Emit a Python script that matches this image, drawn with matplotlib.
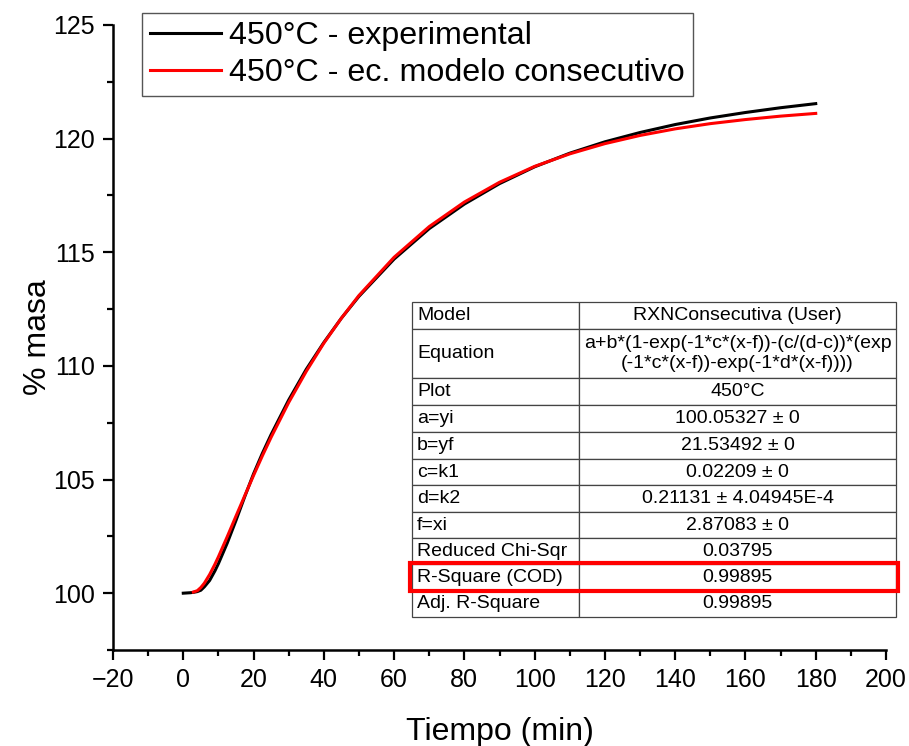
import matplotlib.pyplot as plt
from matplotlib.patches import Rectangle
from matplotlib.ticker import MultipleLocator

plt.rcParams['font.family'] = ['Liberation Sans', 'DejaVu Sans']

# curve values
x_exp = [0, 1, 2, 3, 4, 5, 6, 7.5, 9, 10, 11, 12.5, 15, 17.5, 20, 22.5, 25, 30,
         35, 40, 45, 50, 60, 70, 80, 90, 100, 110, 120, 130, 140, 150, 160,
         170, 180]
y_exp = [100.0, 100.01, 100.02, 100.04, 100.07, 100.13, 100.28, 100.56, 100.98,
         101.30, 101.66, 102.20, 103.20, 104.25, 105.25, 106.15, 106.98, 108.50,
         109.85, 111.03, 112.10, 113.06, 114.70, 116.04, 117.12, 118.02, 118.76,
         119.36, 119.86, 120.27, 120.62, 120.91, 121.15, 121.36, 121.54]

x_mod = [2.87, 4, 5, 6, 7.5, 9, 10, 12.5, 15, 17.5, 20, 22.5, 25, 30, 35, 40,
         45, 50, 60, 70, 80, 90, 100, 110, 120, 130, 140, 150, 160, 170, 180]
y_mod = [100.05, 100.11, 100.25, 100.44, 100.82, 101.27, 101.60, 102.48,
         103.39, 104.29, 105.18, 106.04, 106.86, 108.39, 109.76, 111.00, 112.10,
         113.10, 114.78, 116.13, 117.21, 118.08, 118.78, 119.33, 119.78, 120.14,
         120.43, 120.66, 120.84, 120.99, 121.11]

table_rows = [
    ['Model', 'RXNConsecutiva (User)'],
    ['Equation', 'a+b*(1-exp(-1*c*(x-f))-(c/(d-c))*(exp\n(-1*c*(x-f))-exp(-1*d*(x-f))))'],
    ['Plot', '450°C'],
    ['a=yi', '100.05327 ± 0'],
    ['b=yf', '21.53492 ± 0'],
    ['c=k1', '0.02209 ± 0'],
    ['d=k2', '0.21131 ± 4.04945E-4'],
    ['f=xi', '2.87083 ± 0'],
    ['Reduced Chi-Sqr', '0.03795'],
    ['R-Square (COD)', '0.99895'],
    ['Adj. R-Square', '0.99895'],
]

W, H = 909, 746
fig = plt.figure(figsize=(W / 100, H / 100), dpi=100)
ax = fig.add_axes([113 / W, 1 - 650 / H, (886 - 113) / W, (650 - 25) / H])

ax.plot(x_exp, y_exp, color='black', lw=2.2, label='450°C - experimental', zorder=3)
ax.plot(x_mod, y_mod, color='red', lw=2.2, label='450°C - ec. modelo consecutivo', zorder=4)

ax.set_xlim(-20, 200)
ax.set_ylim(97.5, 125)
ax.xaxis.set_minor_locator(MultipleLocator(10))
ax.yaxis.set_minor_locator(MultipleLocator(2.5))
ax.set_yticks([100, 105, 110, 115, 120, 125])
ax.set_xticks(range(-20, 201, 20))
ax.set_xticklabels(['\u221220'] + [str(v) for v in range(0, 201, 20)])
ax.tick_params(which='major', length=7, width=1.6, labelsize=18, pad=6)
ax.tick_params(which='minor', length=4, width=1.6)
for s in ['top', 'right']:
    ax.spines[s].set_visible(False)
for s in ['left', 'bottom']:
    ax.spines[s].set_linewidth(1.8)

ax.set_xlabel('Tiempo (min)', fontsize=23, labelpad=18)
ax.set_ylabel('% masa', fontsize=23, labelpad=0)

leg = ax.legend(loc='upper left', bbox_to_anchor=(29 / 773, 1.019), fontsize=23.2,
                frameon=True, fancybox=False, framealpha=1, edgecolor='#555555',
                handlelength=2.2, handletextpad=0.25, borderpad=0.25,
                labelspacing=0.22, borderaxespad=0)
leg.get_frame().set_linewidth(1.0)

# results table, placed in figure pixels
tx0, tx1, ty0, ty1 = 412, 896, 302, 617
tab = ax.table(cellText=table_rows, colWidths=[167, 317], loc='center',
               bbox=[0, 0, 1, 1])
row_h = [27, 49, 27, 27, 27, 26, 27, 26, 26, 26, 27]
for (r, c), cell in tab.get_celld().items():
    cell.set_height(row_h[r])
    cell.set_edgecolor('#444444')
    cell.set_linewidth(0.9)
    t = cell.get_text()
    t.set_fontsize(14)
    if c == 0:
        cell._loc = 'left'
        cell.PAD = 0.03
        t.set_ha('left')
    else:
        t.set_ha('center')
        t.set_multialignment('center')
tab.auto_set_font_size(False)
tab.set_fontsize(14)
tab._bbox = [(tx0 - 113) / 773, (650 - ty1) / 625, (tx1 - tx0) / 773, (ty1 - ty0) / 625]
tab.set_clip_on(False)

fig.patches.append(Rectangle((410 / W, 1 - 591 / H), 488 / W, 28 / H,
                             transform=fig.transFigure, fill=False,
                             edgecolor='red', lw=3, zorder=10))

fig.savefig('out.png', dpi=100)
